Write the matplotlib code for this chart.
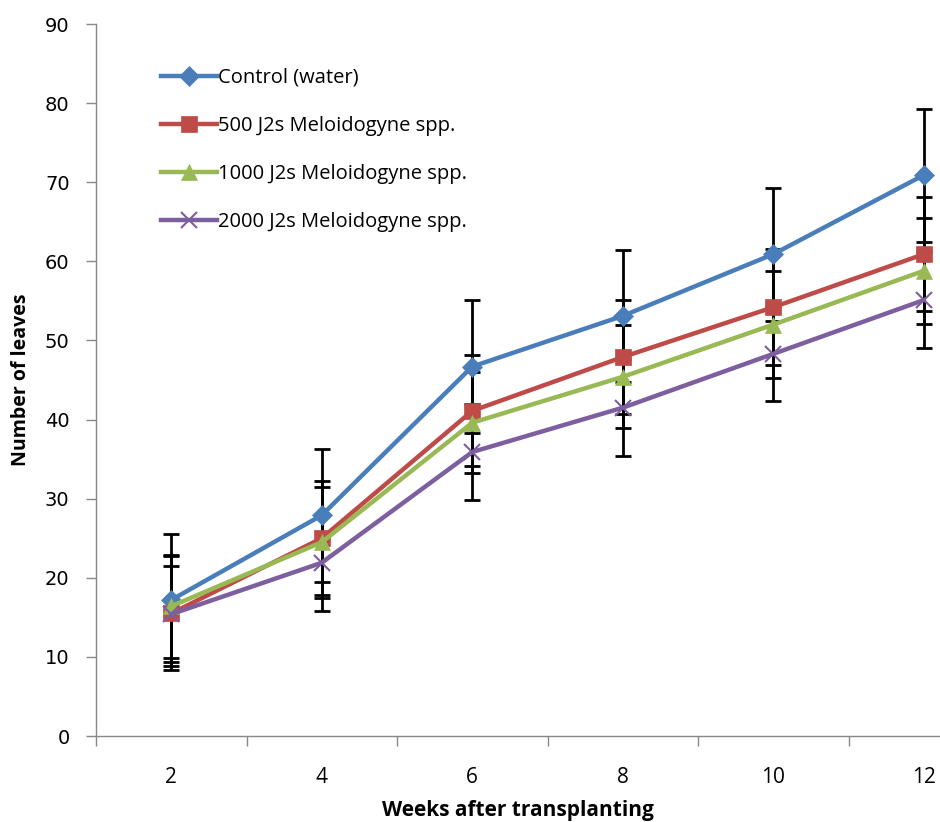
import matplotlib.pyplot as plt
import numpy as np

weeks = ['2', '4', '6', '8', '10', '12']
series_names = ['Control (water)', '500 J2s Meloidogyne spp.',
                '1000 J2s Meloidogyne spp.', '2000 J2s Meloidogyne spp.']
control = [17.2, 27.9, 46.7, 53.1, 60.9, 70.9]
j500 = [15.5, 25.0, 41.1, 47.9, 54.2, 60.9]
j1000 = [16.4, 24.5, 39.6, 45.4, 52.0, 58.8]
j2000 = [15.4, 21.9, 35.9, 41.5, 48.3, 55.1]
err_control = [8.3, 8.4, 8.4, 8.3, 8.4, 8.4]
err_500 = [7.2, 7.2, 7.0, 7.2, 7.3, 7.2]
err_1000 = [6.5, 7.0, 6.4, 6.5, 6.8, 6.7]
err_2000 = [6.1, 6.1, 6.1, 6.1, 6.0, 6.1]

values = [control, j500, j1000, j2000]
errors = [err_control, err_500, err_1000, err_2000]
colors = ['#4A7EBB', '#BE4B48', '#98B954', '#7D5FA0']
markers = ['D', 's', '^', 'x']
msizes = [10, 12, 11, 12]

fig = plt.figure(figsize=(9.4, 8.22), dpi=100)
ax = fig.add_axes([96 / 940, 86 / 822, 903 / 940, 712 / 822])

x = np.arange(len(weeks))
# error bars sit behind the series lines
for err, vals in zip(errors, values):
    ax.errorbar(x, vals, yerr=err, fmt='none', ecolor='black', elinewidth=2,
                capsize=6, capthick=2, zorder=2)
for vals, c, m, ms, name in zip(values, colors, markers, msizes, series_names):
    ax.plot(x, vals, color=c, marker=m, markersize=ms, linewidth=3.2,
            markeredgewidth=1.5 if m == 'x' else 0.5, markeredgecolor=c,
            label=name, zorder=3)

ax.set_ylim(0, 90)
ax.set_xlim(-0.5, 5.5)
ax.set_yticks(np.arange(0, 91, 10))
ax.set_xticks(x)
ax.set_xticklabels(weeks, fontsize=15, family='Open Sans')
ax.set_xticks(np.arange(-0.5, 5.6, 1), minor=True)
ax.tick_params(axis='x', which='major', length=0, pad=22)
ax.tick_params(axis='x', which='minor', length=7, color='#888888', width=1)
ax.tick_params(axis='y', length=7, color='#888888', width=1, labelsize=14, pad=12)
for lab in ax.get_yticklabels():
    lab.set_family('DejaVu Sans')

for side in ['top', 'right']:
    ax.spines[side].set_visible(False)
for side in ['left', 'bottom']:
    ax.spines[side].set_color('#888888')
    ax.spines[side].set_linewidth(1)

ax.set_ylabel('Number of leaves', fontsize=14, fontweight='bold', family='Open Sans', labelpad=10)
fig.text(518 / 940, 1 / 822, 'Weeks after transplanting', ha='center', va='bottom',
         fontsize=15, fontweight='bold', family='Open Sans')

ax.legend(loc='upper left', bbox_to_anchor=(0.052, 0.964), frameon=False,
          handlelength=2.8, labelspacing=1.4, handletextpad=0.05,
          prop={'family': 'Open Sans', 'size': 14.5})

fig.savefig('out.png', dpi=100)
